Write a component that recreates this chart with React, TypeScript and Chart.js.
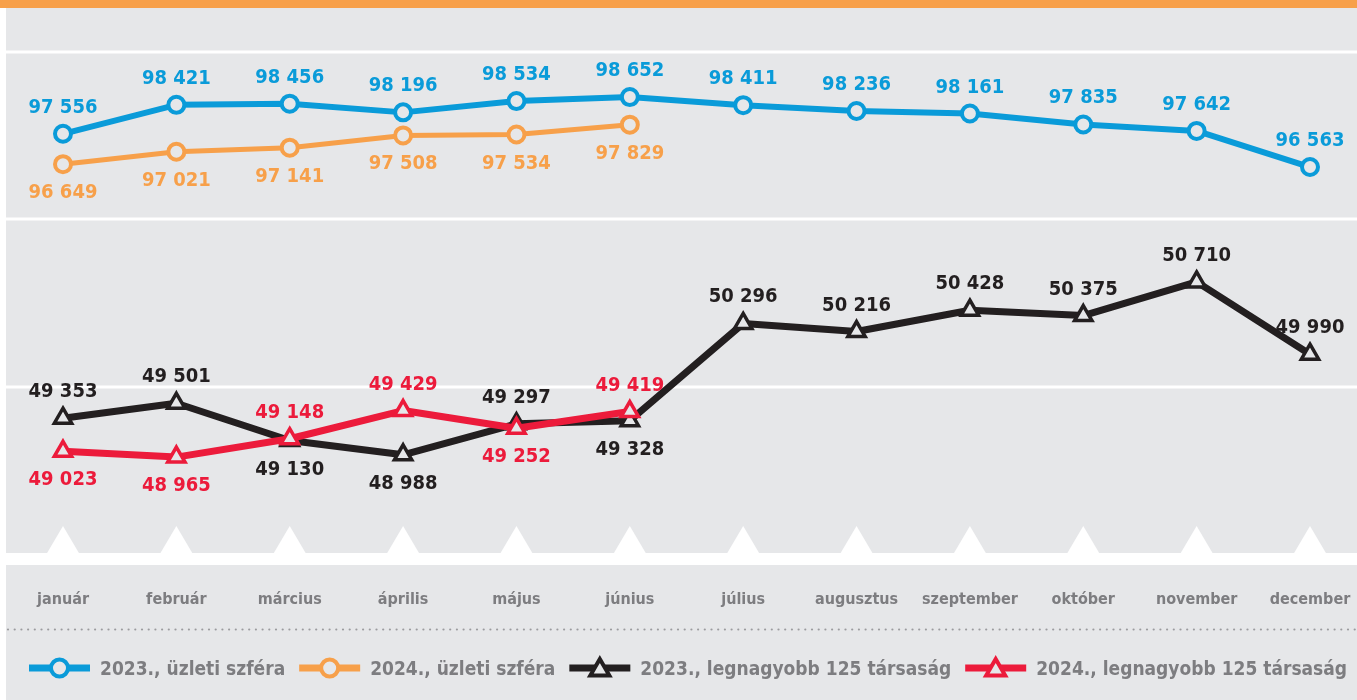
import React, { useEffect, useRef } from 'react';
import { Chart, registerables } from 'chart.js';

Chart.register(...registerables);

const months = ['január', 'február', 'március', 'április', 'május', 'június', 'július', 'augusztus', 'szeptember', 'október', 'november', 'december'];
const business2023 = [97556, 98421, 98456, 98196, 98534, 98652, 98411, 98236, 98161, 97835, 97642, 96563];
const business2024 = [96649, 97021, 97141, 97508, 97534, 97829];
const top125of2023 = [49353, 49501, 49130, 48988, 49297, 49328, 50296, 50216, 50428, 50375, 50710, 49990];
const top125of2024 = [49023, 48965, 49148, 49429, 49252, 49419];
const seriesNames = ['2023., üzleti szféra', '2024., üzleti szféra', '2023., legnagyobb 125 társaság', '2024., legnagyobb 125 társaság'];
const companions = [1, 0, 3, 2];

const BG = '#E6E7E9';
const BLUE = '#0A9BD9';
const ORANGE = '#F7A04A';
const BLACK = '#231F20';
const RED = '#EC1B3B';
const GREY_TEXT = '#7D7D80';
const FONT = "'DejaVu Sans Condensed', 'Liberation Sans Narrow', 'DejaVu Sans', sans-serif";

const fmt = (v: number) => String(v).replace(/\B(?=(\d{3})+(?!\d))/g, ' ');

function drawTriangle(ctx: CanvasRenderingContext2D, x: number, y: number, r: number) {
  ctx.beginPath();
  for (let k = 0; k < 3; k++) {
    const a = (k * 2 * Math.PI) / 3;
    const px = x + Math.sin(a) * r;
    const py = y - Math.cos(a) * r;
    if (k === 0) ctx.moveTo(px, py);
    else ctx.lineTo(px, py);
  }
  ctx.closePath();
}

const decorPlugin = {
  id: 'decor',
  beforeDraw(chart: any) {
    const { ctx, width, height, chartArea, scales } = chart;
    ctx.save();
    ctx.fillStyle = '#FFFFFF';
    ctx.fillRect(0, 0, width, height);
    ctx.fillStyle = BG;
    ctx.fillRect(6, 8, width - 6, height - 8);
    ctx.fillStyle = ORANGE;
    ctx.fillRect(0, 0, width, 8);
    // white panel separators
    ctx.fillStyle = '#FFFFFF';
    [100000, 95000, 90000].forEach((v) => {
      const y = scales.yTop.getPixelForValue(v);
      ctx.fillRect(6, Math.round(y) - 1.5, width - 6, 3);
    });
    // bottom white band with triangles
    const b = chartArea.bottom;
    ctx.fillRect(6, b - 1, width - 6, 12);
    const xs = scales.x;
    for (let i = 0; i < months.length; i++) {
      const x = xs.getPixelForValue(i);
      ctx.beginPath();
      ctx.moveTo(x, b - 28);
      ctx.lineTo(x + 16.5, b);
      ctx.lineTo(x - 16.5, b);
      ctx.closePath();
      ctx.fill();
    }
    ctx.restore();
  },
  afterDatasetsDraw(chart: any) {
    const { ctx, width, scales } = chart;
    ctx.save();
    // value labels
    ctx.font = `bold 20px ${FONT}`;
    ctx.textAlign = 'center';
    ctx.textBaseline = 'alphabetic';
    chart.data.datasets.forEach((ds: any, i: number) => {
      const meta = chart.getDatasetMeta(i);
      const comp = chart.data.datasets[companions[i]].data;
      ds.data.forEach((v: number, j: number) => {
        const el = meta.data[j];
        if (!el) return;
        const other = comp[j];
        const above = other === undefined || v >= other;
        const cy = above ? el.y - 28 : el.y + 27;
        ctx.fillStyle = ds.borderColor;
        ctx.fillText(fmt(v), el.x, cy + 7);
      });
    });
    // month labels
    ctx.font = `bold 16px ${FONT}`;
    ctx.fillStyle = GREY_TEXT;
    months.forEach((m, i) => {
      ctx.fillText(m, scales.x.getPixelForValue(i), 604);
    });
    // dotted line
    ctx.fillStyle = '#9B9B9E';
    for (let x = 8; x < width; x += 6.7) {
      ctx.beginPath();
      ctx.arc(x, 629.5, 1.1, 0, Math.PI * 2);
      ctx.fill();
    }
    // legend
    ctx.font = `bold 19px ${FONT}`;
    ctx.textAlign = 'left';
    let lx = 29;
    const ly = 668;
    chart.data.datasets.forEach((ds: any, i: number) => {
      ctx.strokeStyle = ds.borderColor;
      ctx.lineWidth = 7;
      ctx.beginPath();
      ctx.moveTo(lx, ly);
      ctx.lineTo(lx + 61, ly);
      ctx.stroke();
      const cx = lx + 30.5;
      ctx.fillStyle = BG;
      if (ds.pointStyle === 'circle') {
        ctx.lineWidth = 4;
        ctx.beginPath();
        ctx.arc(cx, ly, 8.5, 0, Math.PI * 2);
        ctx.fill();
        ctx.stroke();
      } else {
        ctx.lineWidth = 4;
        drawTriangle(ctx, cx, ly + 2, 11);
        ctx.fill();
        ctx.stroke();
      }
      ctx.fillStyle = GREY_TEXT;
      ctx.fillText(seriesNames[i], lx + 71, ly + 7);
      lx += 71 + ctx.measureText(seriesNames[i]).width + 14;
    });
    ctx.restore();
  },
};

export default function App() {
  const ref = useRef<HTMLCanvasElement | null>(null);
  useEffect(() => {
    if (!ref.current) return;
    const chart = new Chart(ref.current, {
      type: 'line',
      data: {
        labels: months,
        datasets: [
          {
            label: seriesNames[0],
            data: business2023,
            yAxisID: 'yTop',
            borderColor: BLUE,
            backgroundColor: BG,
            borderWidth: 6,
            pointStyle: 'circle',
            pointRadius: 8,
            pointBorderWidth: 4,
            pointBackgroundColor: BG,
            order: 2,
          },
          {
            label: seriesNames[1],
            data: business2024,
            yAxisID: 'yTop',
            borderColor: ORANGE,
            backgroundColor: BG,
            borderWidth: 5,
            pointStyle: 'circle',
            pointRadius: 8,
            pointBorderWidth: 4,
            pointBackgroundColor: BG,
            order: 3,
          },
          {
            label: seriesNames[2],
            data: top125of2023,
            yAxisID: 'yBot',
            borderColor: BLACK,
            backgroundColor: BG,
            borderWidth: 7,
            pointStyle: 'triangle',
            pointRadius: 10,
            pointBorderWidth: 3.5,
            pointBackgroundColor: BG,
            order: 1,
          },
          {
            label: seriesNames[3],
            data: top125of2024,
            yAxisID: 'yBot',
            borderColor: RED,
            backgroundColor: BG,
            borderWidth: 7,
            pointStyle: 'triangle',
            pointRadius: 10,
            pointBorderWidth: 3.5,
            pointBackgroundColor: BG,
            order: 0,
          },
        ],
      },
      options: {
        responsive: false,
        animation: false,
        devicePixelRatio: 1,
        layout: { padding: { left: 63, right: 47, top: 52, bottom: 146 } },
        plugins: { legend: { display: false }, tooltip: { enabled: false } },
        elements: { line: { tension: 0, borderJoinStyle: 'round' } },
        scales: {
          x: { display: false, offset: false },
          yTop: { display: false, min: 85000, max: 100000 },
          yBot: { display: false, min: 48000, max: 53000 },
        },
      },
      plugins: [decorPlugin],
    });
    return () => chart.destroy();
  }, []);
  return (
    <div style={{ position: 'absolute', left: 0, top: 0, width: 1357, height: 700 }}>
      <canvas ref={ref} width={1357} height={700} style={{ display: 'block' }} />
    </div>
  );
}
